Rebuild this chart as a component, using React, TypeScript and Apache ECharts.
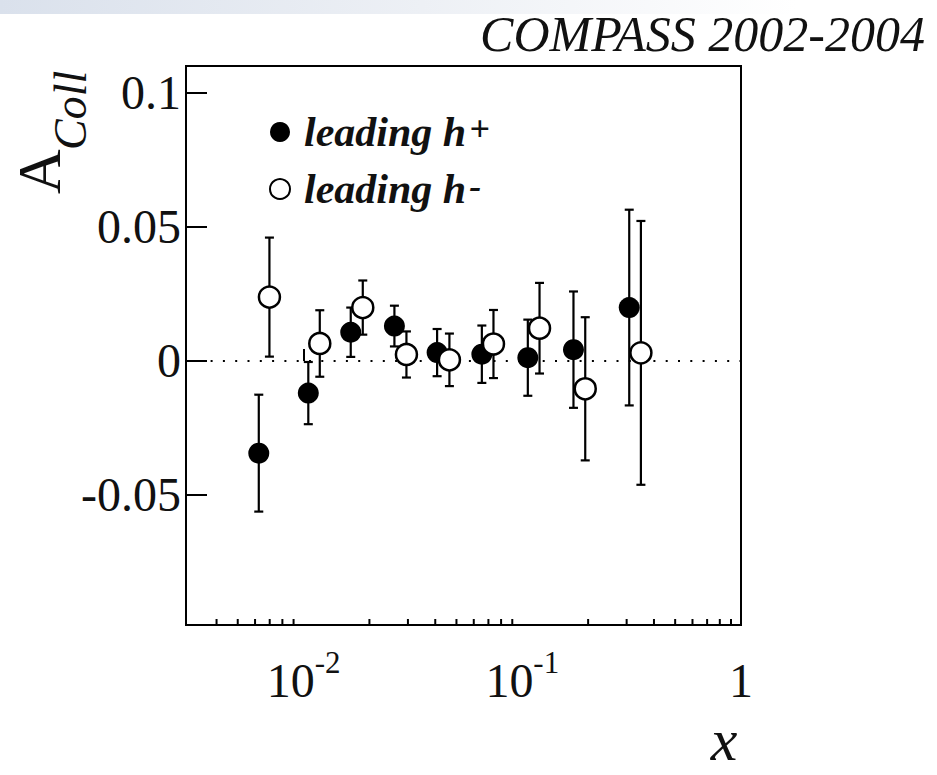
import React, { useEffect, useRef } from "react";
import * as echarts from "echarts";

// leading h+ (filled circles)
const xPos = [0.00624, 0.01051, 0.01643, 0.02602, 0.04079, 0.06533, 0.106, 0.1714, 0.3083];
const yPos = [-0.0344, -0.012, 0.0107, 0.013, 0.0031, 0.0025, 0.0012, 0.0042, 0.0199];
const ePos = [0.0218, 0.0116, 0.0092, 0.0076, 0.0088, 0.0107, 0.0142, 0.0217, 0.0365];

// leading h- (open circles)
const xNeg = [0.00698, 0.01186, 0.01865, 0.02953, 0.04643, 0.07383, 0.1199, 0.194, 0.3486];
const yNeg = [0.0238, 0.0065, 0.0199, 0.0024, 0.0004, 0.0063, 0.0122, -0.0104, 0.003];
const eNeg = [0.0222, 0.0124, 0.0101, 0.0086, 0.0098, 0.0127, 0.0169, 0.0267, 0.0492];

const minorTicks = [
  0.004, 0.005, 0.006, 0.007, 0.008, 0.009,
  0.02, 0.03, 0.04, 0.05, 0.06, 0.07, 0.08, 0.09,
  0.2, 0.3, 0.4, 0.5, 0.6, 0.7, 0.8, 0.9,
];

const X_MIN = 0.0029;
const X_MAX = 1;
const Y_MIN = -0.0985;
const Y_MAX = 0.11;

const SERIF = "Liberation Serif";
const NAME_POS = "leading h+";
const NAME_NEG = "leading h-";

export default function App() {
  const ref = useRef<HTMLDivElement>(null);

  useEffect(() => {
    if (!ref.current) return;
    const chart = echarts.init(ref.current, undefined, { renderer: "svg" });

    const errRender = (params: any, api: any) => {
      const x = api.value(0);
      const y = api.value(1);
      const e = api.value(2);
      const top = api.coord([x, y + e]);
      const bot = api.coord([x, y - e]);
      const cw = 4.5;
      const st = { stroke: "#000", lineWidth: 2.2 };
      return {
        type: "group",
        children: [
          { type: "line", shape: { x1: top[0], y1: top[1], x2: bot[0], y2: bot[1] }, style: st },
          { type: "line", shape: { x1: top[0] - cw, y1: top[1], x2: top[0] + cw, y2: top[1] }, style: st },
          { type: "line", shape: { x1: bot[0] - cw, y1: bot[1], x2: bot[0] + cw, y2: bot[1] }, style: st },
        ],
      };
    };

    const minorRender = (params: any, api: any) => {
      const p = api.coord([api.value(0), Y_MIN]);
      return {
        type: "line",
        shape: { x1: p[0], y1: p[1], x2: p[0], y2: p[1] - 6 },
        style: { stroke: "#000", lineWidth: 2 },
      };
    };

    const isPow10 = (v: number) => Math.abs(Math.log10(v) - Math.round(Math.log10(v))) < 1e-6;

    chart.setOption({
      animation: false,
      backgroundColor: "#fff",
      title: {
        text: "COMPASS 2002-2004",
        right: 7,
        top: 4,
        textStyle: { fontFamily: SERIF, fontStyle: "italic", fontWeight: "normal", fontSize: 50, color: "#111" },
      },
      graphic: [
        {
          type: "rect",
          z: -10,
          shape: { x: 0, y: 0, width: 937, height: 14 },
          style: {
            fill: new echarts.graphic.LinearGradient(0, 0, 1, 0, [
              { offset: 0, color: "#dae1ec" },
              { offset: 0.45, color: "#edf0f5" },
              { offset: 0.85, color: "#ffffff" },
            ]),
          },
        },
        {
          type: "text",
          x: 39,
          y: 194,
          rotation: Math.PI / 2,
          style: { text: "A", fontFamily: SERIF, fontSize: 62, fill: "#111", align: "left", verticalAlign: "middle" },
        },
        {
          type: "text",
          x: 70,
          y: 150,
          rotation: Math.PI / 2,
          style: { text: "Coll", fontFamily: SERIF, fontStyle: "italic", fontSize: 46, fill: "#111", align: "left", verticalAlign: "middle" },
        },
        {
          type: "text",
          x: 724,
          y: 740,
          style: { text: "x", fontFamily: SERIF, fontStyle: "italic", fontSize: 60, fill: "#111", align: "center", verticalAlign: "middle" },
        },
      ],
      legend: {
        data: [NAME_POS, NAME_NEG],
        orient: "vertical",
        left: 264,
        top: 106,
        itemWidth: 20,
        itemHeight: 20,
        itemGap: 15,
        selectedMode: false,
        formatter: (name: string) =>
          name === NAME_POS ? "{t|leading h}{s|+}" : "{t|leading h}{s|-}",
        textStyle: {
          rich: {
            t: { fontFamily: SERIF, fontSize: 42, fontWeight: "bold", fontStyle: "italic", color: "#111", padding: [0, 0, 0, 9] },
            s: { fontFamily: SERIF, fontSize: 36, fontWeight: "bold", fontStyle: "italic", color: "#111", verticalAlign: "top", padding: [0, 0, 0, 3] },
          },
        },
      },
      grid: {
        left: 186,
        right: 196,
        top: 66,
        bottom: 150,
        show: true,
        borderColor: "#000",
        borderWidth: 2,
        backgroundColor: "transparent",
      },
      xAxis: {
        type: "log",
        logBase: 10,
        min: X_MIN,
        max: X_MAX,
        axisLine: { show: false },
        splitLine: { show: false },
        axisTick: { show: true, inside: true, length: 12, lineStyle: { color: "#000", width: 2 } },
        axisLabel: {
          margin: 22,
          showMinLabel: false,
          formatter: (v: number) => {
            if (!isPow10(v)) return "";
            const p = Math.round(Math.log10(v));
            if (p === 0) return "{b|1}";
            return `{b|10}{s|${p}}`;
          },
          rich: {
            b: { fontFamily: SERIF, fontSize: 48, lineHeight: 67, color: "#111" },
            s: { fontFamily: SERIF, fontSize: 31, lineHeight: 31, color: "#111", padding: [0, 0, 36, 0] },
          },
        },
      },
      yAxis: {
        type: "value",
        min: Y_MIN,
        max: Y_MAX,
        axisLine: { show: false },
        splitLine: { show: false },
        axisTick: { show: true, inside: true, length: 21, lineStyle: { color: "#000", width: 2 } },
        axisLabel: {
          margin: 5,
          showMinLabel: false,
          showMaxLabel: false,
          fontFamily: SERIF,
          fontSize: 48,
          color: "#111",
          formatter: (v: number) => (Math.abs(v) < 1e-9 ? "0" : String(+v.toFixed(3))),
        },
      },
      series: [
        {
          type: "custom",
          name: "minor",
          renderItem: minorRender,
          data: minorTicks.map((v) => [v, Y_MIN]),
          silent: true,
          z: 1,
          clip: false,
        },
        {
          type: "custom",
          name: "errPos",
          renderItem: errRender,
          data: xPos.map((x, i) => [x, yPos[i], ePos[i]]),
          silent: true,
          z: 2,
        },
        {
          type: "custom",
          name: "errNeg",
          renderItem: errRender,
          data: xNeg.map((x, i) => [x, yNeg[i], eNeg[i]]),
          silent: true,
          z: 2,
        },
        {
          type: "scatter",
          name: NAME_POS,
          symbol: "circle",
          symbolSize: 21,
          itemStyle: { color: "#000", opacity: 1 },
          data: xPos.map((x, i) => [x, yPos[i]]),
          z: 5,
          markLine: {
            silent: true,
            symbol: ["none", "none"],
            label: { show: false },
            lineStyle: { color: "#000", width: 2, type: [2, 10.3] },
            data: [{ yAxis: 0 }],
            z: 1,
          },
        },
        {
          type: "scatter",
          name: NAME_NEG,
          symbol: "circle",
          symbolSize: 21,
          itemStyle: { color: "#fff", borderColor: "#000", borderWidth: 2.5, opacity: 1 },
          data: xNeg.map((x, i) => [x, yNeg[i]]),
          z: 6,
        },
      ],
    });

    return () => chart.dispose();
  }, []);

  return (
    <div
      ref={ref}
      style={{ position: "fixed", left: 0, top: 0, width: 937, height: 775, background: "#fff" }}
    />
  );
}
